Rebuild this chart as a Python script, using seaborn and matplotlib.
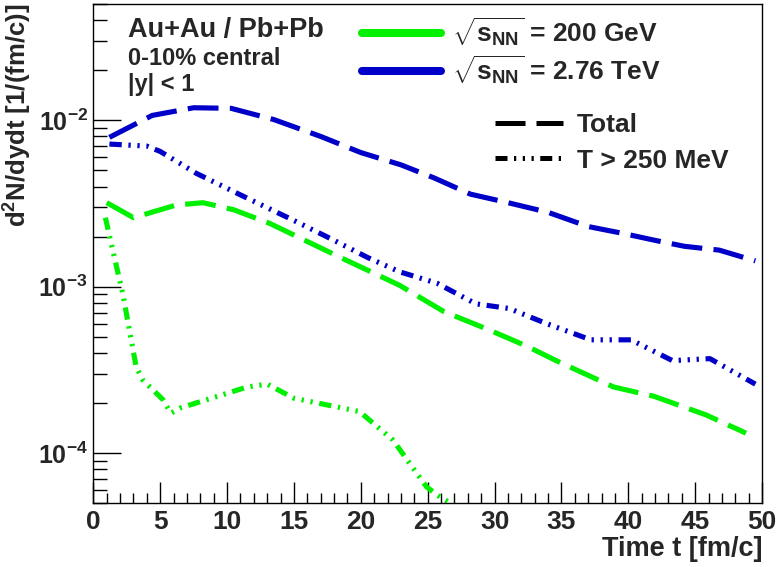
import numpy as np
import pandas as pd
import matplotlib
matplotlib.use("Agg")
import matplotlib.pyplot as plt
import seaborn as sns
from matplotlib.lines import Line2D
from matplotlib.ticker import MultipleLocator, LogLocator, NullFormatter

# ---------------- data ----------------
t_blue_total = [1.2, 4.4, 7.5, 10.3, 13.5, 17.0, 20.0, 23.0, 25.5, 28.2, 31.0,
                34.0, 37.0, 39.5, 42.0, 44.2, 46.8, 49.5]
v_blue_total = [0.0079, 0.0107, 0.0119, 0.0118, 0.0101, 0.0080, 0.0064, 0.0054,
                0.0045, 0.0036, 0.0032, 0.0028, 0.0023, 0.0021, 0.0019, 0.00175,
                0.00166, 0.00143]

t_blue_hot = [1.2, 4.0, 5.0, 7.7, 11.2, 15.0, 18.0, 20.5, 22.9, 25.7, 28.6, 31.1,
              33.9, 37.2, 40.2, 43.3, 46.1, 49.5]
v_blue_hot = [0.0072, 0.0070, 0.0065, 0.0048, 0.0035, 0.0025, 0.0019, 0.0015, 0.00123,
              0.00105, 0.00079, 0.00074, 0.00060, 0.00048, 0.00048, 0.00036, 0.00037,
              0.00026]

t_green_total = [1.0, 3.0, 6.2, 8.2, 10.5, 13.2, 18.4, 22.9, 26.2, 29.6, 32.4, 34.6,
                 38.9, 41.9, 45.8, 48.8]
v_green_total = [0.0032, 0.0026, 0.0031, 0.0032, 0.0029, 0.0024, 0.00151, 0.00102,
                 0.00071, 0.00055, 0.00044, 0.00036, 0.00025, 0.00022, 0.00017, 0.000132]

t_green_hot = [0.9, 1.5, 2.2, 3.2, 3.7, 5.2, 5.8, 6.5, 11.5, 13.0, 15.0, 19.9, 22.4,
               24.9, 25.7, 27.5]
v_green_hot = [0.0026, 0.00159, 0.00091, 0.00033, 0.000275, 0.00021, 0.000174, 0.000187,
               0.00025, 0.00026, 0.000214, 0.000178, 0.00012, 6.3e-5, 5.6e-5, 4.6e-5]

energies = ["200 GeV", "2.76 TeV"]
kinds = ["Total", "T > 250 MeV"]
energy_labels = [r"$\sqrt{s_{NN}}$ = 200 GeV", r"$\sqrt{s_{NN}}$ = 2.76 TeV"]
x_ticks = [0, 5, 10, 15, 20, 25, 30, 35, 40, 45, 50]

GREEN = "#00f000"
BLUE = "#0000c8"

frames = []
for t, v, e, k in [(t_green_total, v_green_total, energies[0], kinds[0]),
                   (t_green_hot, v_green_hot, energies[0], kinds[1]),
                   (t_blue_total, v_blue_total, energies[1], kinds[0]),
                   (t_blue_hot, v_blue_hot, energies[1], kinds[1])]:
    frames.append(pd.DataFrame({"t": t, "v": v, "energy": e, "kind": k}))
df = pd.concat(frames, ignore_index=True)

# ---------------- style ----------------
sns.set_theme(style="white")
plt.rcParams["font.family"] = ["Liberation Sans", "DejaVu Sans"]
plt.rcParams["font.weight"] = "bold"
plt.rcParams["axes.labelweight"] = "bold"
plt.rcParams["mathtext.fontset"] = "custom"
plt.rcParams["mathtext.rm"] = "Liberation Sans:bold"
plt.rcParams["mathtext.bf"] = "Liberation Sans:bold"
plt.rcParams["mathtext.it"] = "Liberation Sans:bold"
plt.rcParams["mathtext.default"] = "regular"
plt.rcParams["axes.unicode_minus"] = False

fig = plt.figure(figsize=(7.8, 5.67), dpi=100)
ax = fig.add_axes([0.1197, 0.1123, 0.977 - 0.1197, 0.993 - 0.1123])

dash_total = (6.0, 2.2)
dash_hot = (2.4, 1.3, 0.45, 1.3, 0.45, 1.3, 0.45, 1.3)

sns.lineplot(data=df, x="t", y="v", hue="energy", style="kind",
             hue_order=energies, style_order=kinds,
             palette={energies[0]: GREEN, energies[1]: BLUE},
             dashes={kinds[0]: dash_total, kinds[1]: dash_hot},
             linewidth=3.7, estimator=None, legend=False, ax=ax)
for ln in ax.lines:
    ln.set_dash_capstyle("butt")

ax.set_yscale("log")
ax.set_xlim(0, 50)
ax.set_ylim(5e-5, 0.05)

ax.yaxis.set_major_locator(LogLocator(base=10, numticks=10))
ax.yaxis.set_minor_locator(LogLocator(base=10, subs=np.arange(2, 10), numticks=20))
ax.yaxis.set_minor_formatter(NullFormatter())
ax.set_xticks(x_ticks)
ax.set_xticklabels([str(x) for x in x_ticks])
ax.xaxis.set_minor_locator(MultipleLocator(1))

ax.tick_params(axis="both", which="both", direction="in", top=False, right=False,
               bottom=True, left=True, color="black", width=1)
ax.tick_params(axis="x", which="major", length=15, labelsize=19, pad=5)
ax.tick_params(axis="x", which="minor", length=7)
ax.tick_params(axis="y", which="major", length=20, labelsize=18, pad=4)
ax.tick_params(axis="y", which="minor", length=10)
for sp in ax.spines.values():
    sp.set_color("black")
    sp.set_linewidth(1.0)

ax.set_xlabel("Time t [fm/c]", loc="right", fontsize=19.5, labelpad=1)
ax.set_ylabel(r"d$^{2}$N/dydt [1/(fm/c)]", loc="top", fontsize=18.5, labelpad=3)

# text block
ax.text(0.052, 0.934, "Au+Au / Pb+Pb", transform=ax.transAxes, fontsize=19.5, va="baseline")
ax.text(0.052, 0.878, "0-10% central", transform=ax.transAxes, fontsize=17, va="baseline")
ax.text(0.052, 0.826, "|y| < 1", transform=ax.transAxes, fontsize=17, va="baseline")

# legends
h1 = [Line2D([], [], color=GREEN, lw=5.8), Line2D([], [], color=BLUE, lw=5.8)]
leg1 = ax.legend(handles=h1, labels=energy_labels, loc="upper left",
                 bbox_to_anchor=(0.402, 0.977), frameon=False, fontsize=19,
                 handlelength=3.0, handletextpad=0.4, borderpad=0, borderaxespad=0,
                 labelspacing=0.2)
ax.add_artist(leg1)
h2 = [Line2D([], [], color="black", lw=3.6, dashes=dash_total, dash_capstyle="butt"),
      Line2D([], [], color="black", lw=3.6, dashes=dash_hot, dash_capstyle="butt")]
leg2 = ax.legend(handles=h2, labels=kinds, loc="upper left",
                 bbox_to_anchor=(0.601, 0.782), frameon=False, fontsize=19,
                 handlelength=2.55, handletextpad=0.55, borderpad=0, borderaxespad=0,
                 labelspacing=0.45)

fig.savefig("out.png", dpi=100)
